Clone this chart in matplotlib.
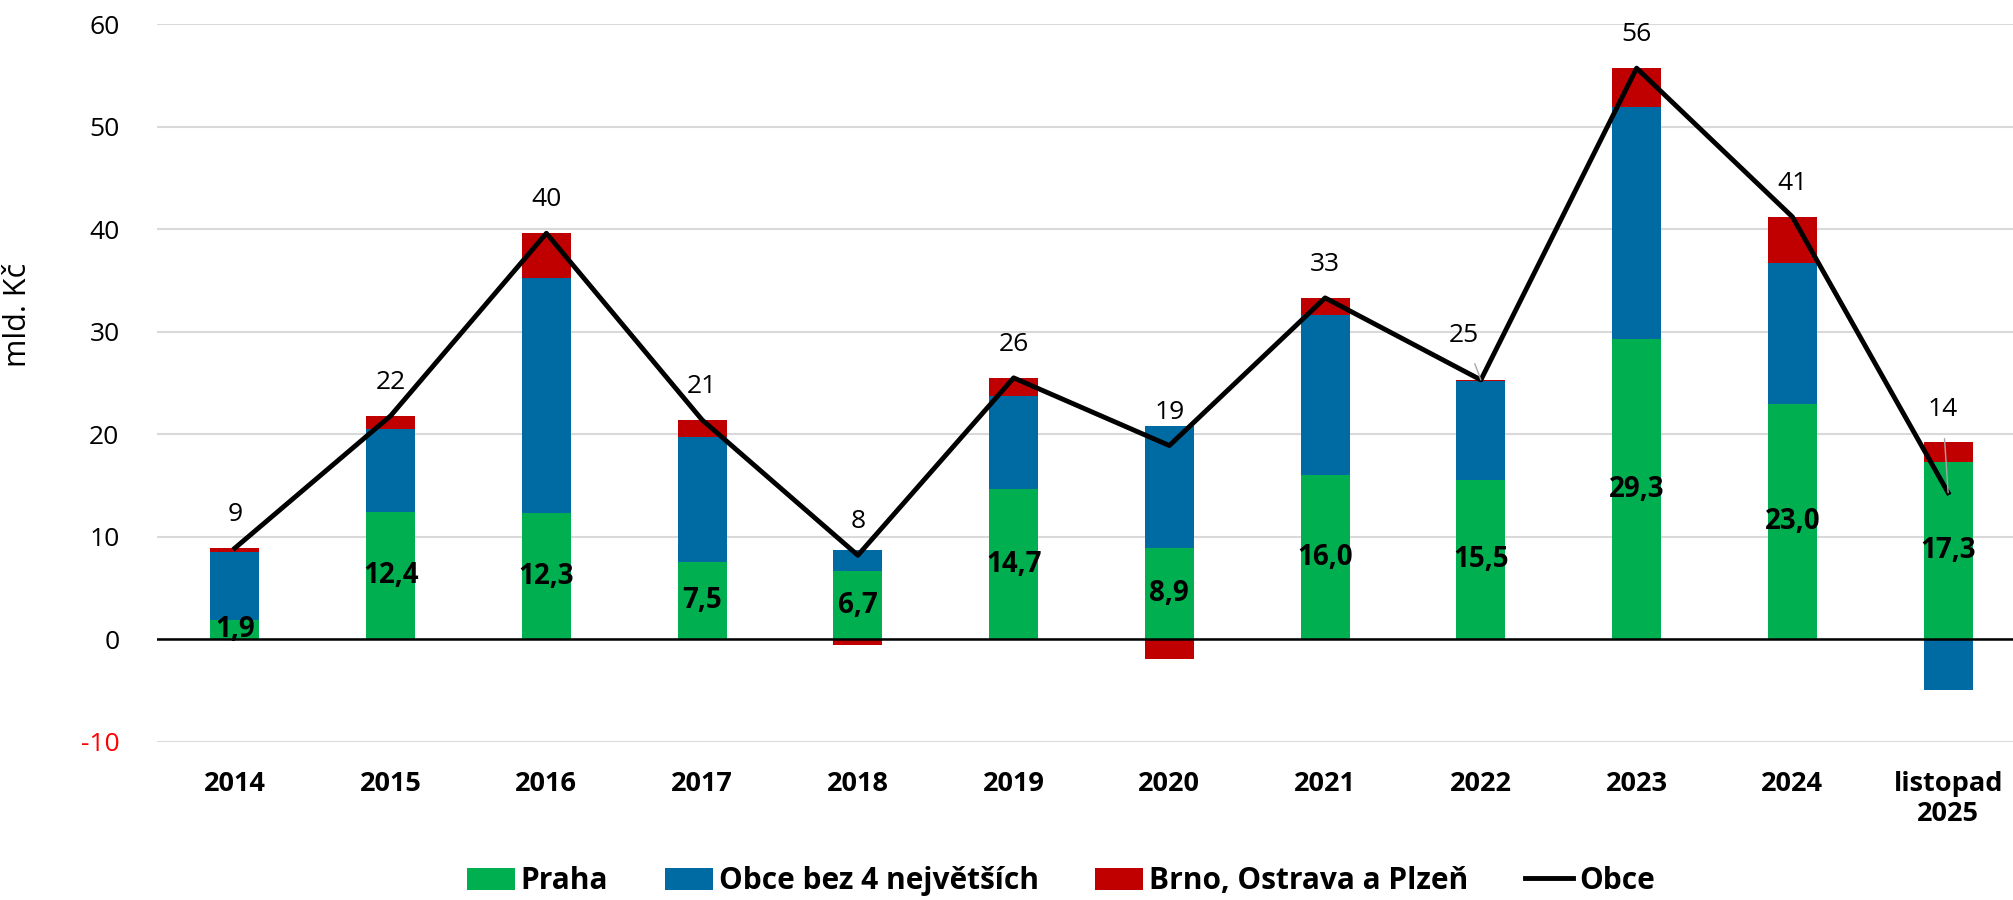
import numpy as np
import matplotlib.pyplot as plt

# data (mld. Kč)
categories = ['2014', '2015', '2016', '2017', '2018', '2019', '2020', '2021',
              '2022', '2023', '2024', 'listopad\n2025']
praha = [1.9, 12.4, 12.3, 7.5, 6.7, 14.7, 8.9, 16.0, 15.5, 29.3, 23.0, 17.3]
obce_bez4 = [6.6, 8.1, 22.9, 12.2, 2.0, 9.0, 11.9, 15.6, 9.7, 22.6, 13.7, -4.9]
brno_ostrava_plzen = [0.4, 1.3, 4.4, 1.7, -0.5, 1.8, -1.9, 1.7, 0.1, 3.8, 4.5, 1.9]
obce = [8.9, 21.8, 39.6, 21.4, 8.2, 25.5, 18.9, 33.3, 25.3, 55.7, 41.2, 14.3]

green = '#00B050'
blue = '#006BA2'
red = '#C00000'

plt.rcParams['font.family'] = ['Open Sans', 'DejaVu Sans']

fig = plt.figure(figsize=(20.13, 9), dpi=100)
ax = fig.add_axes([157 / 2013, 0.1756, (2026 - 157) / 2013, 0.9733 - 0.1756])

x = np.arange(len(categories))
width = 0.315

# positives stack upward, negatives downward (like Excel)
pos_bottom = np.zeros(len(x))
neg_bottom = np.zeros(len(x))
series = [(praha, green, 'Praha'),
          (obce_bez4, blue, 'Obce bez 4 největších'),
          (brno_ostrava_plzen, red, 'Brno, Ostrava a Plzeň')]
for vals, col, name in series:
    vals = np.array(vals)
    bottoms = np.where(vals >= 0, pos_bottom, neg_bottom)
    ax.bar(x, vals, width, bottom=bottoms, color=col, label=name, zorder=2)
    pos_bottom = pos_bottom + np.where(vals >= 0, vals, 0)
    neg_bottom = neg_bottom + np.where(vals < 0, vals, 0)

# labels inside the Praha segments
for xi, v in zip(x, praha):
    ax.text(xi, v / 2, f'{v:.1f}'.replace('.', ','), ha='center', va='center',
            fontsize=20, fontweight='bold', color='black', zorder=5)

ax.plot(x, obce, color='black', lw=3.5, label='Obce', zorder=4)

# total labels above the line, two of them moved with a leader line
moved = {8: (-12, 32), 11: (-4, 60)}
for xi, v in zip(x, obce):
    if xi in moved:
        ax.annotate(f'{v:.0f}', (xi, v), xytext=moved[xi], textcoords='offset points',
                    ha='center', va='center', fontsize=19, zorder=6,
                    arrowprops=dict(arrowstyle='-', color='#A6A6A6', lw=1.0,
                                    shrinkA=10, shrinkB=0))
    else:
        ax.annotate(f'{v:.0f}', (xi, v), xytext=(0, 24), textcoords='offset points',
                    ha='center', va='center', fontsize=19, zorder=6)

ax.axhline(0, color='black', lw=1.8, zorder=3)

ax.set_xlim(-0.5, 11.5)
ax.set_ylim(-10, 60)
ax.set_yticks(range(-10, 61, 10))
ax.yaxis.set_major_formatter(plt.FuncFormatter(lambda v, p: f'{v:.0f}'))
ax.set_xticks(x)
ax.set_xticklabels(categories, fontsize=19.5, fontweight='bold')
ax.tick_params(axis='y', labelsize=19, length=0, pad=27)
ax.tick_params(axis='x', length=0, pad=21)

ax.grid(axis='y', color='#D9D9D9', lw=1.5, zorder=0)
ax.set_axisbelow(True)
for s in ax.spines.values():
    s.set_visible(False)

ax.set_ylabel('mld. Kč', fontsize=22)
ax.yaxis.set_label_coords(-0.0665, 0.595)

handles, labels = ax.get_legend_handles_labels()
order = [1, 2, 3, 0]
fig.legend([handles[i] for i in order], [labels[i] for i in order],
           loc='center', bbox_to_anchor=(0.527, 0.021), ncol=4, frameon=False,
           prop={'size': 21.5, 'weight': 'bold'}, handlelength=1.6,
           handleheight=0.75, handletextpad=0.2, columnspacing=1.9)

fig.canvas.draw()
for lbl in ax.get_yticklabels():
    if lbl.get_position()[1] < 0:
        lbl.set_color('red')

fig.savefig('out.png', dpi=100)
